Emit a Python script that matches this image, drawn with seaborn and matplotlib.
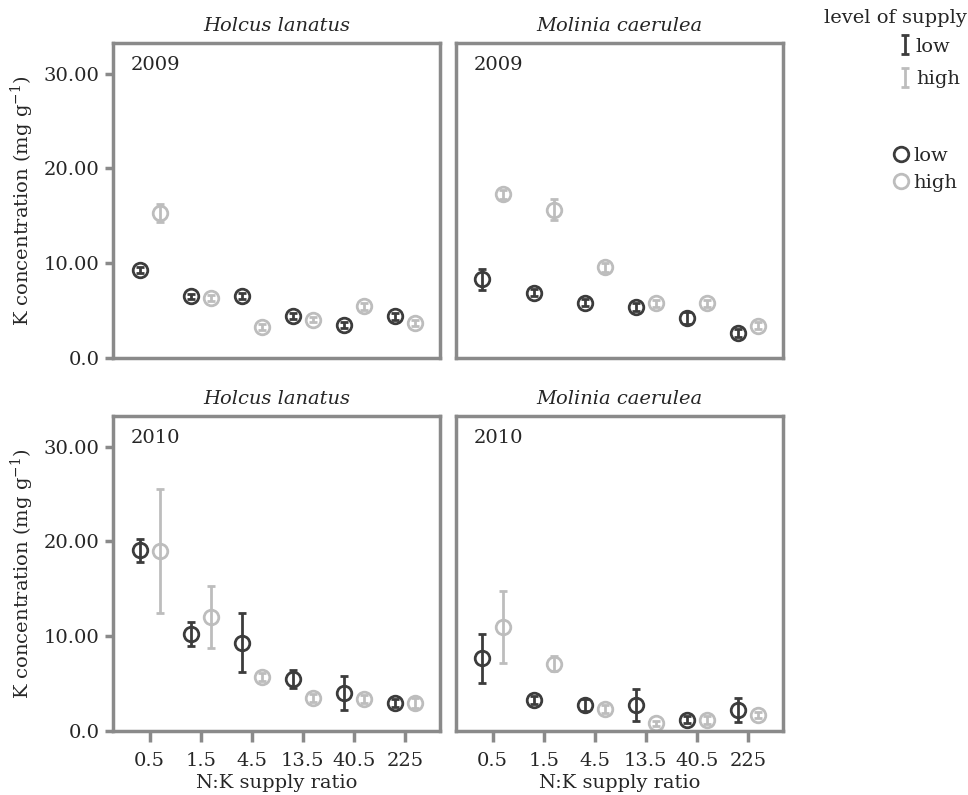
import numpy as np
import pandas as pd
import seaborn as sns
import matplotlib.pyplot as plt
from matplotlib.lines import Line2D

# N:K supply ratios (categories) and supply levels
ratios = ['0.5', '1.5', '4.5', '13.5', '40.5', '225']
levels = ['low', 'high']

# K concentration (mg g-1), mean and error
holcus_2009_low = [9.25, 6.5, 6.55, 4.45, 3.45, 4.4]
holcus_2009_low_err = [0.3, 0.3, 0.35, 0.3, 0.3, 0.35]
holcus_2009_high = [15.3, 6.35, 3.25, 4.05, 5.45, 3.7]
holcus_2009_high_err = [0.95, 0.3, 0.3, 0.3, 0.4, 0.3]

molinia_2009_low = [8.3, 6.9, 5.85, 5.4, 4.2, 2.65]
molinia_2009_low_err = [1.1, 0.35, 0.4, 0.4, 0.6, 0.4]
molinia_2009_high = [17.25, 15.65, 9.55, 5.75, 5.75, 3.4]
molinia_2009_high_err = [0.45, 1.15, 0.45, 0.4, 0.4, 0.35]

holcus_2010_low = [19.05, 10.25, 9.3, 5.45, 4.0, 2.95]
holcus_2010_low_err = [1.25, 1.25, 3.1, 0.95, 1.75, 0.4]
holcus_2010_high = [19.0, 12.05, 5.7, 3.45, 3.35, 2.95]
holcus_2010_high_err = [6.55, 3.25, 0.4, 0.4, 0.4, 0.55]

molinia_2010_low = [7.65, 3.25, 2.75, 2.75, 1.2, 2.2]
molinia_2010_low_err = [2.6, 0.45, 0.6, 1.65, 0.35, 1.3]
molinia_2010_high = [11.0, 7.1, 2.3, 0.8, 1.15, 1.7]
molinia_2010_high_err = [3.8, 0.8, 0.4, 0.3, 0.4, 0.35]

panels = {
    (2009, 'Holcus lanatus'): (holcus_2009_low, holcus_2009_low_err, holcus_2009_high, holcus_2009_high_err),
    (2009, 'Molinia caerulea'): (molinia_2009_low, molinia_2009_low_err, molinia_2009_high, molinia_2009_high_err),
    (2010, 'Holcus lanatus'): (holcus_2010_low, holcus_2010_low_err, holcus_2010_high, holcus_2010_high_err),
    (2010, 'Molinia caerulea'): (molinia_2010_low, molinia_2010_low_err, molinia_2010_high, molinia_2010_high_err),
}

rows = []
for (year, species), (lo, lo_e, hi, hi_e) in panels.items():
    for i, r in enumerate(ratios):
        rows.append([year, species, r, 'low', lo[i], lo_e[i]])
        rows.append([year, species, r, 'high', hi[i], hi_e[i]])
df = pd.DataFrame(rows, columns=['year', 'species', 'ratio', 'level', 'K', 'err'])

sns.set_style('white')
plt.rcParams['font.family'] = ['DejaVu Serif']
plt.rcParams['mathtext.fontset'] = 'dejavuserif'

colors = {'low': '#3c3c3c', 'high': '#bdbdbd'}
frame = '#8a8a8a'
dodge = 0.4
fs = 14

fig = plt.figure(figsize=(9.68, 7.95), dpi=100)
lefts = [0.1167, 0.471]
bottoms = [0.5497, 0.0805]
w, h = 0.338, 0.396

err_handles = {}
for ri, year in enumerate([2009, 2010]):
    for ci, species in enumerate(['Holcus lanatus', 'Molinia caerulea']):
        ax = fig.add_axes([lefts[ci], bottoms[ri], w, h])
        sub = df[(df.year == year) & (df.species == species)]
        sns.pointplot(data=sub, x='ratio', y='K', hue='level', order=ratios,
                      hue_order=levels, palette=colors, dodge=dodge,
                      linestyle='none', errorbar=None, markers='o',
                      markersize=10.5, markeredgewidth=2,
                      markerfacecolor='none', legend=False, ax=ax)
        for k, lev in enumerate(levels):
            s = sub[sub.level == lev].set_index('ratio').loc[ratios]
            pos = np.arange(len(ratios)) + (k - 0.5) * dodge
            eb = ax.errorbar(pos, s['K'], yerr=s['err'], fmt='none',
                             ecolor=colors[lev], elinewidth=2, capsize=3,
                             capthick=2, label=lev)
            err_handles[lev] = eb
        ax.set_xlim(-0.72, 5.69)
        ax.set_ylim(0, 33.2)
        ax.set_title(species, style='italic', fontsize=fs, pad=9)
        ax.text(0.055, 0.93, str(year), transform=ax.transAxes,
                fontsize=fs, va='center', ha='left')
        for sp in ax.spines.values():
            sp.set_color(frame)
            sp.set_linewidth(2.5)
        ax.set_xlabel('')
        ax.set_ylabel('')
        ax.set_yticks([0, 10, 20, 30])
        if ci == 0:
            ax.set_yticklabels(['0.0', '10.00', '20.00', '30.00'], fontsize=fs)
            ax.set_ylabel('K concentration (mg g$^{-1}$)', fontsize=fs, labelpad=6)
            ax.tick_params(axis='y', left=True, length=6, width=2.5,
                           color=frame, direction='out')
        else:
            ax.set_yticklabels([])
            ax.tick_params(axis='y', left=False)
        if ri == 1:
            ax.set_xticks(range(len(ratios)))
            ax.set_xticklabels(ratios, fontsize=fs)
            ax.set_xlabel('N:K supply ratio', fontsize=fs, labelpad=3)
            ax.tick_params(axis='x', bottom=True, length=8, width=2.5,
                           color=frame, direction='out', pad=7)
        else:
            ax.set_xticks([])

fig.text(0.925, 0.977, 'level of supply', fontsize=fs, ha='center', va='center')
leg1 = fig.legend([err_handles['low'], err_handles['high']], levels,
                  loc='upper left', bbox_to_anchor=(0.92, 0.965), frameon=False,
                  fontsize=fs, handlelength=0.5, handletextpad=0.3,
                  labelspacing=0.75, borderpad=0)
circles = [Line2D([], [], linestyle='none', marker='o', markersize=10.5,
                  markerfacecolor='none', markeredgewidth=2,
                  markeredgecolor=colors[l]) for l in levels]
leg2 = fig.legend(circles, levels, loc='upper left',
                  bbox_to_anchor=(0.915, 0.827), frameon=False, fontsize=fs,
                  handlelength=0.6, handletextpad=0.3, labelspacing=0.45,
                  borderpad=0)

fig.savefig('out.png', dpi=100)
